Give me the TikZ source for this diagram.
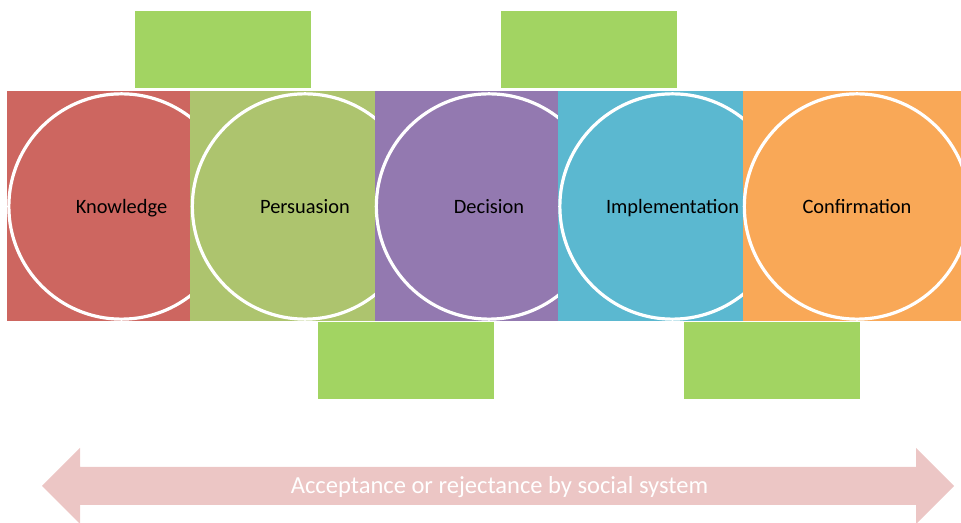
\documentclass[tikz,border=0pt]{standalone}
\usepackage{fontspec}
\setmainfont{Carlito}
\definecolor{cRed}{HTML}{CD6660}
\definecolor{cGreen}{HTML}{ADC46E}
\definecolor{cPurple}{HTML}{9379B0}
\definecolor{cCyan}{HTML}{5BB8D0}
\definecolor{cOrange}{HTML}{F9A857}
\definecolor{cBox}{HTML}{A2D462}
\definecolor{cArrow}{HTML}{ECC6C5}
\tikzset{
  stage/.style={circle, draw=white, line width=2.4pt, minimum size=169pt, inner sep=0pt, text height=11pt, text depth=3pt, font=\fontsize{15.3}{18}\selectfont, text=black},
  gbox/.style={fill=cBox, draw=none, minimum width=132pt, minimum height=57.75pt, inner sep=0pt},
}
\begin{document}
\begin{tikzpicture}[x=0.75pt,y=-0.75pt]
\useasboundingbox (0,0) rectangle (961,523);
% green boxes
\node[gbox, anchor=north west] (t1) at (135,11) {};
\node[gbox, anchor=north west] (t2) at (501,11) {};
\node[gbox, anchor=north west] (b1) at (318,322) {};
\node[gbox, anchor=north west] (b2) at (684,322) {};
% stages
\fill[cRed] (7,91) rectangle (190,321);
\node[stage] (k) at (121.5,206.5) {};
\node[stage, draw=none] (kt) at (121.5,208.5) {Knowledge};
\fill[cGreen] (190,91) rectangle (375,321);
\node[stage] (p) at (305,206.5) {};
\node[stage, draw=none] (pt) at (305,208.5) {Persuasion};
\fill[cPurple] (375,91) rectangle (558,321);
\node[stage] (d) at (489,206.5) {};
\node[stage, draw=none] (dt) at (489,208.5) {Decision};
\fill[cCyan] (558,91) rectangle (743,321);
\node[stage] (i) at (672.5,206.5) {};
\node[stage, draw=none] (it) at (672.5,208.5) {Implementation};
\fill[cOrange] (743,91) rectangle (961,321);
\node[stage] (c) at (857,206.5) {};
\node[stage, draw=none] (ct) at (857,208.5) {Confirmation};
% arrow
\fill[cArrow] (42,486) -- (80,448) -- (80,467) -- (916,467) -- (916,448) -- (954,486)
  -- (916,524) -- (916,505) -- (80,505) -- (80,524) -- cycle;
\node[text=white, font=\fontsize{18.4}{22}\selectfont] (a) at (499.5,487.5) {Acceptance or rejectance by social system};
\end{tikzpicture}
\end{document}
